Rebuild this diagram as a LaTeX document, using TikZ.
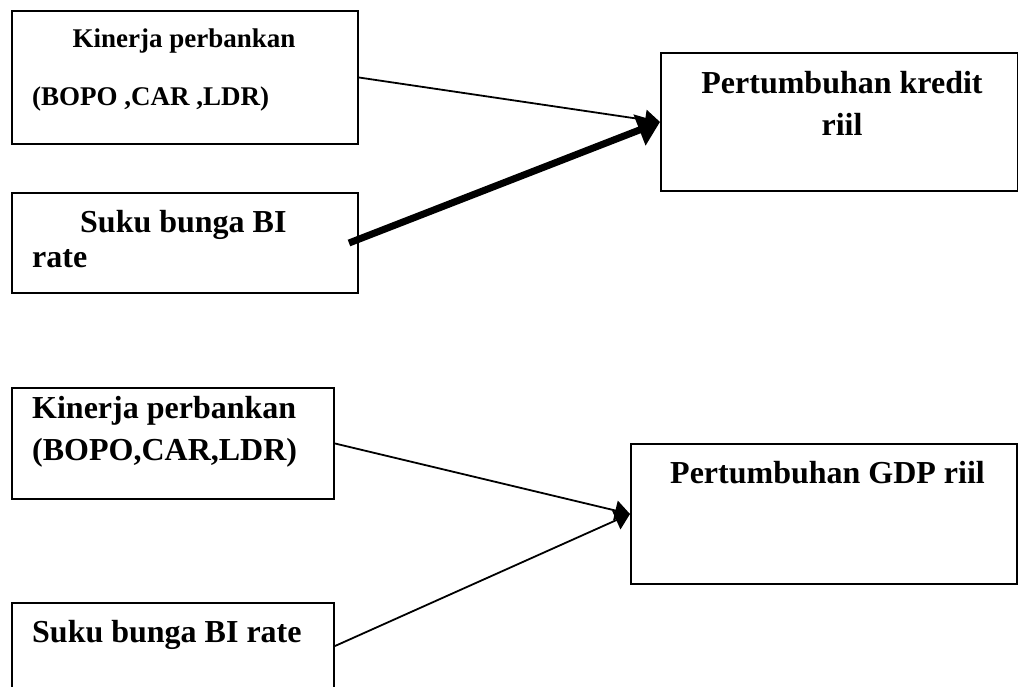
\documentclass[tikz,border=0pt]{standalone}
\usepackage{fontspec}
\setmainfont{Liberation Serif}
\usetikzlibrary{arrows.meta}
\tikzset{
  box/.style={draw, line width=2pt, rectangle, inner sep=0pt, anchor=north west},
  big/.style={anchor=base west, inner sep=0pt, font=\fontsize{32}{38}\selectfont\bfseries},
  small/.style={anchor=base west, inner sep=0pt, font=\fontsize{27}{32}\selectfont\bfseries},
  conn/.style={line width=1.8pt, -{Triangle[length=15pt,width=20pt]}},
  thickconn/.style={line width=7pt, -{Triangle[length=22pt,width=32pt]}}
}
\begin{document}
\begin{tikzpicture}[x=1pt,y=-1pt]
\useasboundingbox (0,0) rectangle (1018,686);
\clip (0,0) rectangle (1018,686);
% boxes
\node[box, minimum width=346pt, minimum height=133pt] (A) at (11,10) {};
\node[box, minimum width=346pt, minimum height=100pt] (B) at (11,192) {};
\node[box, minimum width=357pt, minimum height=138pt] (C) at (660,52) {};
\node[box, minimum width=322pt, minimum height=111pt] (D) at (11,387) {};
\node[box, minimum width=322pt, minimum height=86pt] (E) at (11,602) {};
\node[box, minimum width=386pt, minimum height=140pt] (F) at (630,443) {};
% texts
\node[small, anchor=base] (ta1) at (184,47) {Kinerja perbankan};
\node[small] (ta2) at (32,105) {(BOPO ,CAR ,LDR)};
\node[big] (tb1) at (80,232) {Suku bunga BI};
\node[big] (tb2) at (32,267) {rate};
\node[big, anchor=base] (tc1) at (842,93) {Pertumbuhan kredit};
\node[big, anchor=base] (tc2) at (842,135) {riil};
\node[big] (td1) at (32,418) {Kinerja perbankan};
\node[big] (td2) at (32,460) {(BOPO,CAR,LDR)};
\node[big] (te1) at (32,642) {Suku bunga BI rate};
\node[big] (tf1) at (670,483) {Pertumbuhan GDP riil};
% connectors
\draw[conn] (A.east) -- (C.west);
\draw[thickconn] ([xshift=-10pt]B.east) -- (C.west);
\draw[conn] (D.east) -- (F.west);
\draw[conn] (E.east) -- (F.west);
\end{tikzpicture}
\end{document}
